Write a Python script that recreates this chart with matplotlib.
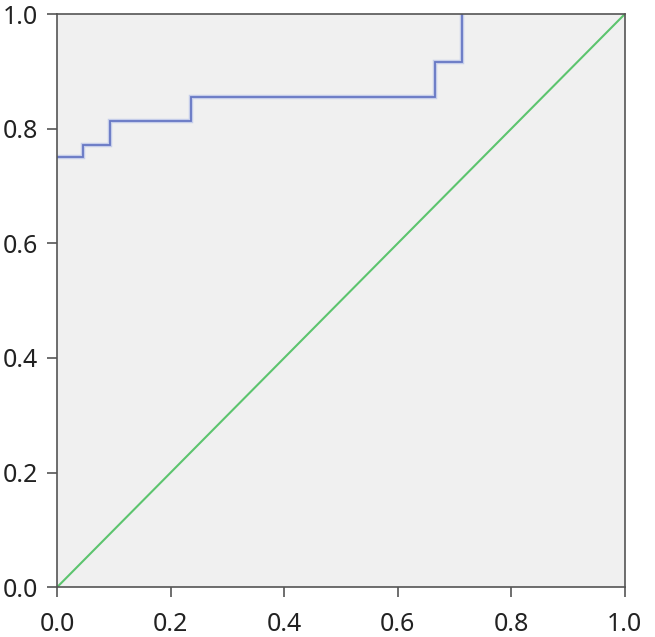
import matplotlib.pyplot as plt

# ROC curve step points (1 - specificity, sensitivity)
fpr = [0.0, 0.046, 0.046, 0.093, 0.093, 0.236, 0.236, 0.666, 0.666, 0.714, 0.714]
tpr = [0.750, 0.750, 0.771, 0.771, 0.813, 0.813, 0.855, 0.855, 0.917, 0.917, 1.0]
ref_x = [0.0, 1.0]
ref_y = [0.0, 1.0]
ticks = [0.0, 0.2, 0.4, 0.6, 0.8, 1.0]

plt.rcParams['font.family'] = ['Noto Sans', 'DejaVu Sans']
fig = plt.figure(figsize=(6.55, 6.37), dpi=100)
ax = fig.add_axes([0.087, 0.078, 0.867, 0.900])
ax.set_facecolor('#f0f0f0')

ax.plot(fpr, tpr, color='#c5cdea', linewidth=3.2, solid_joinstyle='miter')
ax.plot(fpr, tpr, color='#6677c4', linewidth=1.3, solid_joinstyle='miter')
ax.plot(ref_x, ref_y, color='#5cc46e', linewidth=1.5)

ax.set_xlim(0, 1)
ax.set_ylim(0, 1)
ax.set_xticks(ticks)
ax.set_yticks(ticks)
ax.set_xticklabels([f'{t:.1f}' for t in ticks])
ax.set_yticklabels([f'{t:.1f}' for t in ticks])
ax.tick_params(direction='out', length=7.5, width=1.2, color='#555555',
               labelsize=18, labelcolor='#222222')
ax.tick_params(axis='x', pad=10)
ax.tick_params(axis='y', pad=6)
for s in ax.spines.values():
    s.set_color('#555555')
    s.set_linewidth(1.2)

fig.savefig('out.png', dpi=100)
